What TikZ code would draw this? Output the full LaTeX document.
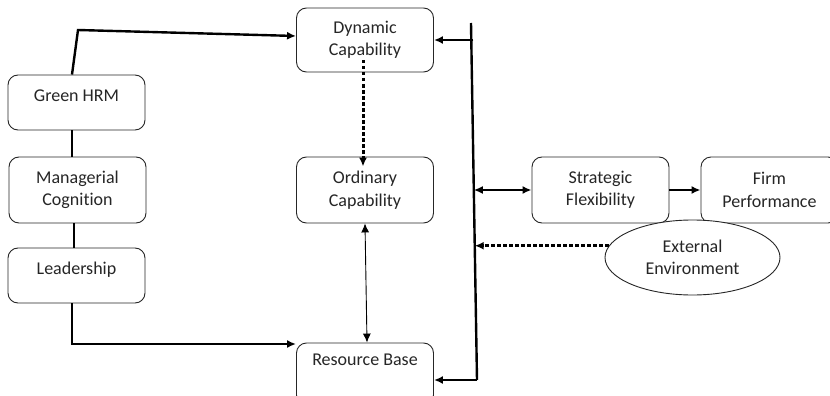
\documentclass[tikz,border=0pt]{standalone}
\usepackage{fontspec}
\setmainfont{Carlito}[Ligatures={NoCommon}]
\usetikzlibrary{arrows.meta,calc,shapes.geometric}
\tikzset{
  box/.style={draw=black!85, line width=0.9pt, rounded corners=10pt, minimum width=137pt, align=center, inner sep=0pt, text=black!85},
  txt/.style={font=\fontsize{18}{22.5}\selectfont, text=black!85},
  conn/.style={line width=2.4pt, line join=miter},
  tip/.style={-{Latex[length=9pt,width=8pt]}},
  dtip/.style={{Latex[length=9pt,width=8pt]}-{Latex[length=9pt,width=8pt]}},
  dots/.style={line width=3pt, dash pattern=on 3.5pt off 2.5pt},
}
\begin{document}
\begin{tikzpicture}[x=1pt,y=-1pt]
\clip (0,0) rectangle (830,396);
\fill[white] (0,0) rectangle (830,396);
% left column
\node[box, minimum height=55pt, label={[txt,anchor=center,yshift=-21pt]north:Green HRM}] (ghrm) at (76.5,102.5) {};
\node[box, txt, minimum height=66pt] (mc) at (77.5,190) {Managerial\\Cognition};
\node[box, minimum height=55pt, label={[txt,anchor=center,yshift=-22pt]north:Leadership}] (lead) at (76.5,275.5) {};
% middle column
\node[box, txt, minimum height=64pt] (dyn) at (365,40) {Dynamic\\Capability};
\node[box, txt, minimum height=66pt] (ord) at (365,190) {Ordinary\\Capability};
\node[box, minimum height=62pt, label={[txt,anchor=center,yshift=-17pt]north:Resource Base}] (res) at (365,374) {};
% right side
\node[box, txt, minimum height=66pt] (strat) at (600.5,190) {Strategic\\Flexibility};
\node[box, txt, minimum height=66pt] (firm) at (769.5,190) {Firm\\Performance};
\node[ellipse, draw=black!85, line width=0.9pt, fill=white, txt, align=center, minimum width=175pt, minimum height=75pt, inner sep=0pt] (env) at (692.5,257.5) {External\\Environment};
% bar
\coordinate (vtop) at (471,23);
\coordinate (vbot) at (477,380);
\coordinate (b1) at ($(vtop)!0.05!(vbot)$);
\coordinate (b2) at ($(vtop)!0.465!(vbot)$);
\coordinate (b3) at ($(vtop)!0.622!(vbot)$);
\coordinate (bend1) at (78,30);
% connectors
\draw[conn, tip] ([xshift=-4.5pt]ghrm.north) -- (bend1) -- ([yshift=4pt]dyn.west);
\draw[conn] ([xshift=-4.5pt]ghrm.south) -- ([xshift=-5.5pt]mc.north);
\draw[conn] ([xshift=-3.5pt]mc.south) -- ([xshift=-2.5pt]lead.north);
\draw[conn, tip] ([xshift=-4.5pt]lead.south) |- ([yshift=30pt]res.west);
\draw[dots, tip] ([xshift=-2pt,yshift=-20pt]dyn.center) -- ([xshift=-2pt,yshift=-10pt]ord.north);
\draw[line width=0.9pt, dtip] (ord.south) -- ([xshift=2pt]res.north);
\draw[conn, line cap=butt] (vtop) -- (vbot);
\draw[conn, tip] (vbot) -- ([yshift=-6pt]res.east);
\draw[conn, tip] ([xshift=2pt]b1 |- dyn.east) -- (dyn.east);
\draw[conn, dtip] (b2 |- strat.west) -- (strat.west);
\draw[conn, tip] (strat.east) -- (firm.west);
\draw[dots, tip] (env.172) -- (env.172 -| b3);
\end{tikzpicture}
\end{document}
